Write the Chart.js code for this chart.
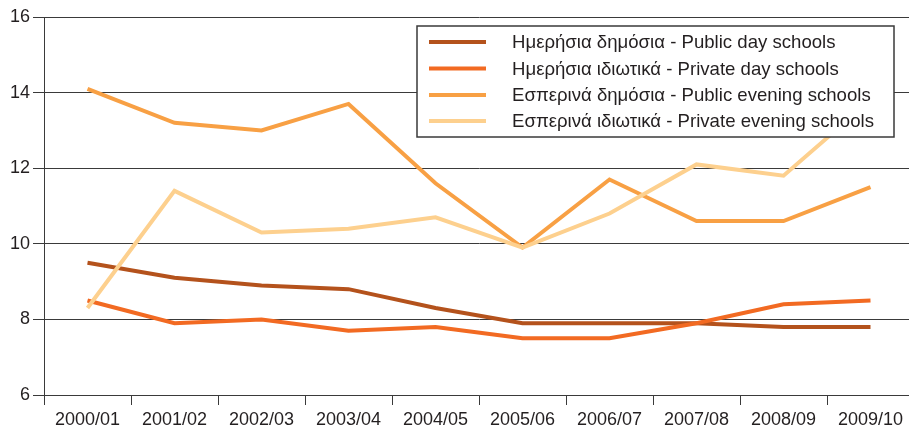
<!DOCTYPE html>
<html>
<head>
<meta charset="utf-8">
<script src="https://cdn.jsdelivr.net/npm/chart.js@4/dist/chart.umd.min.js"></script>
<style>
html,body{margin:0;padding:0;background:#fff;overflow:hidden;width:909px;height:430px;}
canvas{display:block;}
</style>
</head>
<body>
<canvas id="c" width="914" height="430"></canvas>
<script>
const categories = ["2000/01","2001/02","2002/03","2003/04","2004/05","2005/06","2006/07","2007/08","2008/09","2009/10"];
const seriesNames = [
  "Ημερήσια δημόσια - Public day schools",
  "Ημερήσια ιδιωτικά - Private day schools",
  "Εσπερινά δημόσια - Public evening schools",
  "Εσπερινά ιδιωτικά - Private evening schools"
];
const publicDay = [9.5, 9.1, 8.9, 8.8, 8.3, 7.9, 7.9, 7.9, 7.8, 7.8];
const privateDay = [8.5, 7.9, 8.0, 7.7, 7.8, 7.5, 7.5, 7.9, 8.4, 8.5];
const publicEvening = [14.1, 13.2, 13.0, 13.7, 11.6, 9.9, 11.7, 10.6, 10.6, 11.5];
const privateEvening = [8.3, 11.4, 10.3, 10.4, 10.7, 9.9, 10.8, 12.1, 11.8, 13.8];
const yTicks = [6, 8, 10, 12, 14, 16];
const colors = ["#b4521c", "#f26a22", "#f8a044", "#fdd08e"];

const FONT = '"Liberation Sans", Arial, sans-serif';
const TEXT = "#231f20";
const GRID = "#3a3a3a";

const legendPlugin = {
  id: "customLegend",
  afterDatasetsDraw(chart) {
    const ctx = chart.ctx;
    ctx.save();
    const x0 = 417, y0 = 26, x1 = 894, y1 = 137;
    ctx.fillStyle = "#ffffff";
    ctx.fillRect(x0, y0, x1 - x0, y1 - y0);
    ctx.strokeStyle = "#3a3a3a";
    ctx.lineWidth = 1.5;
    ctx.strokeRect(x0, y0, x1 - x0, y1 - y0);
    const rows = [42, 68.5, 95, 121];
    ctx.font = "18.6px " + FONT;
    ctx.textBaseline = "middle";
    ctx.textAlign = "left";
    seriesNames.forEach((n, i) => {
      ctx.strokeStyle = colors[i];
      ctx.lineWidth = 4;
      ctx.beginPath();
      ctx.moveTo(429, rows[i]);
      ctx.lineTo(486, rows[i]);
      ctx.stroke();
      ctx.fillStyle = TEXT;
      ctx.fillText(n, 512, rows[i] + 1);
    });
    ctx.restore();
  }
};

const datasets = [publicDay, privateDay, publicEvening, privateEvening].map((d, i) => ({
  label: seriesNames[i],
  data: d,
  borderColor: colors[i],
  backgroundColor: colors[i],
  borderWidth: 4,
  pointRadius: 0,
  tension: 0,
  fill: false,
  order: 3 - i
}));

new Chart(document.getElementById("c"), {
  type: "line",
  data: { labels: categories, datasets },
  options: {
    responsive: false,
    animation: false,
    layout: { padding: { top: 17, right: 0, left: 0, bottom: 0 } },
    plugins: { legend: { display: false }, tooltip: { enabled: false } },
    scales: {
      x: {
        offset: true,
        grid: { display: true, offset: true, drawOnChartArea: false, drawTicks: true, tickLength: 10, color: GRID, lineWidth: 1 },
        border: { display: true, color: GRID, width: 1 },
        ticks: { color: TEXT, font: { family: FONT, size: 18 }, padding: 4, maxRotation: 0, autoSkip: false },
        afterFit(s) { s.height = 35; }
      },
      y: {
        min: 6, max: 16,
        afterBuildTicks(s) { s.ticks = yTicks.map(v => ({ value: v })); },
        grid: { color: GRID, lineWidth: 1, tickLength: 11, drawTicks: true },
        border: { display: true, color: GRID, width: 1 },
        ticks: { color: TEXT, font: { family: FONT, size: 18 }, padding: 3 },
        afterFit(s) { s.width = 44; }
      }
    }
  },
  plugins: [legendPlugin]
});
</script>
</body>
</html>
